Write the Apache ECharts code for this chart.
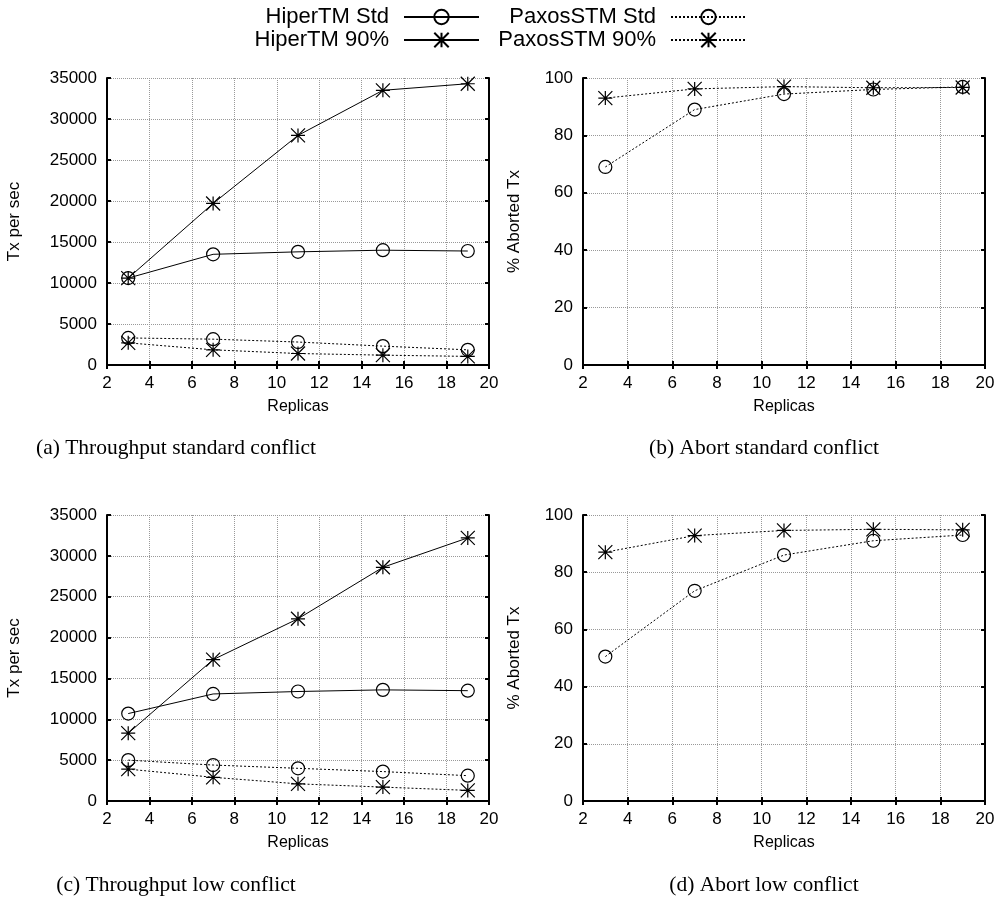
<!DOCTYPE html>
<html>
<head>
<meta charset="utf-8">
<script src="https://cdn.jsdelivr.net/npm/echarts@6/dist/echarts.min.js"></script>
<style>
  html, body { margin: 0; padding: 0; background: #fff; }
  #main { width: 1000px; height: 904px; }
</style>
</head>
<body>
<div id="main"></div>
<script>
// replicas on the x axis
var replicas = [3, 7, 11, 15, 19];

// (a) throughput, standard conflict
var tputStdHiperStd = [10600, 13500, 13800, 14000, 13900];
var tputStdHiper90 = [10600, 19700, 28000, 33500, 34300];
var tputStdPaxosStd = [3300, 3150, 2800, 2300, 1850];
var tputStdPaxos90 = [2700, 1850, 1400, 1200, 1050];

// (b) abort %, standard conflict
var abortStdPaxosStd = [69, 89, 94.4, 96, 96.9];
var abortStdPaxos90 = [93, 96.2, 97, 96.6, 96.7];

// (c) throughput, low conflict
var tputLowHiperStd = [10700, 13100, 13400, 13600, 13500];
var tputLowHiper90 = [8300, 17300, 22300, 28600, 32200];
var tputLowPaxosStd = [5000, 4400, 4000, 3600, 3100];
var tputLowPaxos90 = [3900, 2900, 2100, 1700, 1300];

// (d) abort %, low conflict
var abortLowPaxosStd = [50.5, 73.5, 86, 91, 93];
var abortLowPaxos90 = [87, 92.8, 94.6, 95, 94.8];

var captions = [
  "(a) Throughput standard conflict",
  "(b) Abort standard conflict",
  "(c) Throughput low conflict",
  "(d) Abort low conflict"
];

var STAR = "path://M6 0 L6 12 M0 0 L12 12 M0 12 L12 0 M0 6 L12 6";
var tickFont = "Liberation Sans";

function pairs(ys) {
  return replicas.map(function (x, i) { return [x, ys[i]]; });
}

var grids = [
  { left: 107, top: 78, width: 382, height: 287 },
  { left: 583, top: 78, width: 402, height: 287 },
  { left: 107, top: 515, width: 382, height: 286 },
  { left: 583, top: 515, width: 402, height: 286 }
];

var frame = { color: "#000", width: 2 };
var ticks = { inside: true, length: 4, lineStyle: { color: "#000", width: 2 } };
var gridLine = { show: true, lineStyle: { color: "#999", type: [1, 1], width: 1 } };

var xAxes = [];
var yAxes = [];
grids.forEach(function (g, i) {
  // bottom x axis with labels
  xAxes.push({
    gridIndex: i, type: "value", min: 2, max: 20, interval: 2, position: "bottom",
    name: "Replicas", nameLocation: "middle", nameGap: 34,
    nameTextStyle: { fontFamily: tickFont, fontSize: 16, color: "#000" },
    axisLine: { lineStyle: frame },
    axisTick: ticks,
    axisLabel: { fontFamily: tickFont, fontSize: 17, color: "#000", margin: 10 },
    splitLine: gridLine
  });
  // top mirror
  xAxes.push({
    gridIndex: i, type: "value", min: 2, max: 20, interval: 2, position: "top",
    axisLine: { lineStyle: frame },
    axisTick: ticks,
    axisLabel: { show: false },
    splitLine: { show: false }
  });
  var isTput = (i % 2 === 0);
  yAxes.push({
    gridIndex: i, type: "value", min: 0, max: isTput ? 35000 : 100, interval: isTput ? 5000 : 20,
    position: "left",
    name: isTput ? "Tx per sec" : "% Aborted Tx", nameLocation: "middle", nameGap: isTput ? 84 : 60,
    nameTextStyle: { fontFamily: tickFont, fontSize: 17, color: "#000" },
    axisLine: { show: true, lineStyle: frame },
    axisTick: Object.assign({ show: true }, ticks),
    axisLabel: {
      fontFamily: tickFont, fontSize: 17, color: "#000", margin: 10,
      formatter: function (v) { return String(v); }
    },
    splitLine: gridLine
  });
  yAxes.push({
    gridIndex: i, type: "value", min: 0, max: isTput ? 35000 : 100, interval: isTput ? 5000 : 20,
    position: "right",
    axisLine: { show: true, lineStyle: frame },
    axisTick: Object.assign({ show: true }, ticks),
    axisLabel: { show: false },
    splitLine: { show: false }
  });
});

function mkSeries(name, gi, ys) {
  var hiper = name.indexOf("HiperTM") === 0;
  var star = name.indexOf("90%") > 0;
  return {
    name: name, type: "line", xAxisIndex: gi * 2, yAxisIndex: gi * 2,
    data: pairs(ys),
    symbol: star ? STAR : "circle",
    symbolSize: star ? 14 : 13,
    showSymbol: true,
    lineStyle: { color: "#000", width: 1, type: hiper ? "solid" : [2, 2] },
    itemStyle: { color: "rgba(0,0,0,0)", borderColor: "#000", borderWidth: 1.2 },
    emphasis: { disabled: true },
    animation: false
  };
}

var series = [
  mkSeries("HiperTM Std", 0, tputStdHiperStd),
  mkSeries("HiperTM 90%", 0, tputStdHiper90),
  mkSeries("PaxosSTM Std", 0, tputStdPaxosStd),
  mkSeries("PaxosSTM 90%", 0, tputStdPaxos90),
  mkSeries("PaxosSTM Std", 1, abortStdPaxosStd),
  mkSeries("PaxosSTM 90%", 1, abortStdPaxos90),
  mkSeries("HiperTM Std", 2, tputLowHiperStd),
  mkSeries("HiperTM 90%", 2, tputLowHiper90),
  mkSeries("PaxosSTM Std", 2, tputLowPaxosStd),
  mkSeries("PaxosSTM 90%", 2, tputLowPaxos90),
  mkSeries("PaxosSTM Std", 3, abortLowPaxosStd),
  mkSeries("PaxosSTM 90%", 3, abortLowPaxos90)
];

function mkLegend(name, right, top) {
  return {
    data: [name], right: right, top: top, align: "right",
    itemWidth: 75, itemHeight: 18, padding: 0,
    selectedMode: false,
    textStyle: { fontFamily: tickFont, fontSize: 22, color: "#000", padding: [0, 10, 0, 0] }
  };
}

var capPos = [[176, 448], [764, 448], [176, 885], [764, 885]];
var graphics = captions.map(function (t, i) {
  return {
    type: "text", x: capPos[i][0], y: capPos[i][1],
    style: {
      text: t, fill: "#000", align: "center", verticalAlign: "middle",
      font: "21.5px 'Liberation Serif'"
    }
  };
});

var myChart = echarts.init(document.getElementById("main"));
myChart.setOption({
  animation: false,
  backgroundColor: "#fff",
  grid: grids,
  xAxis: xAxes,
  yAxis: yAxes,
  legend: [
    mkLegend("HiperTM Std", 520, 6),
    mkLegend("HiperTM 90%", 520, 29),
    mkLegend("PaxosSTM Std", 253, 6),
    mkLegend("PaxosSTM 90%", 253, 29)
  ],
  graphic: graphics,
  series: series
});
</script>
</body>
</html>
